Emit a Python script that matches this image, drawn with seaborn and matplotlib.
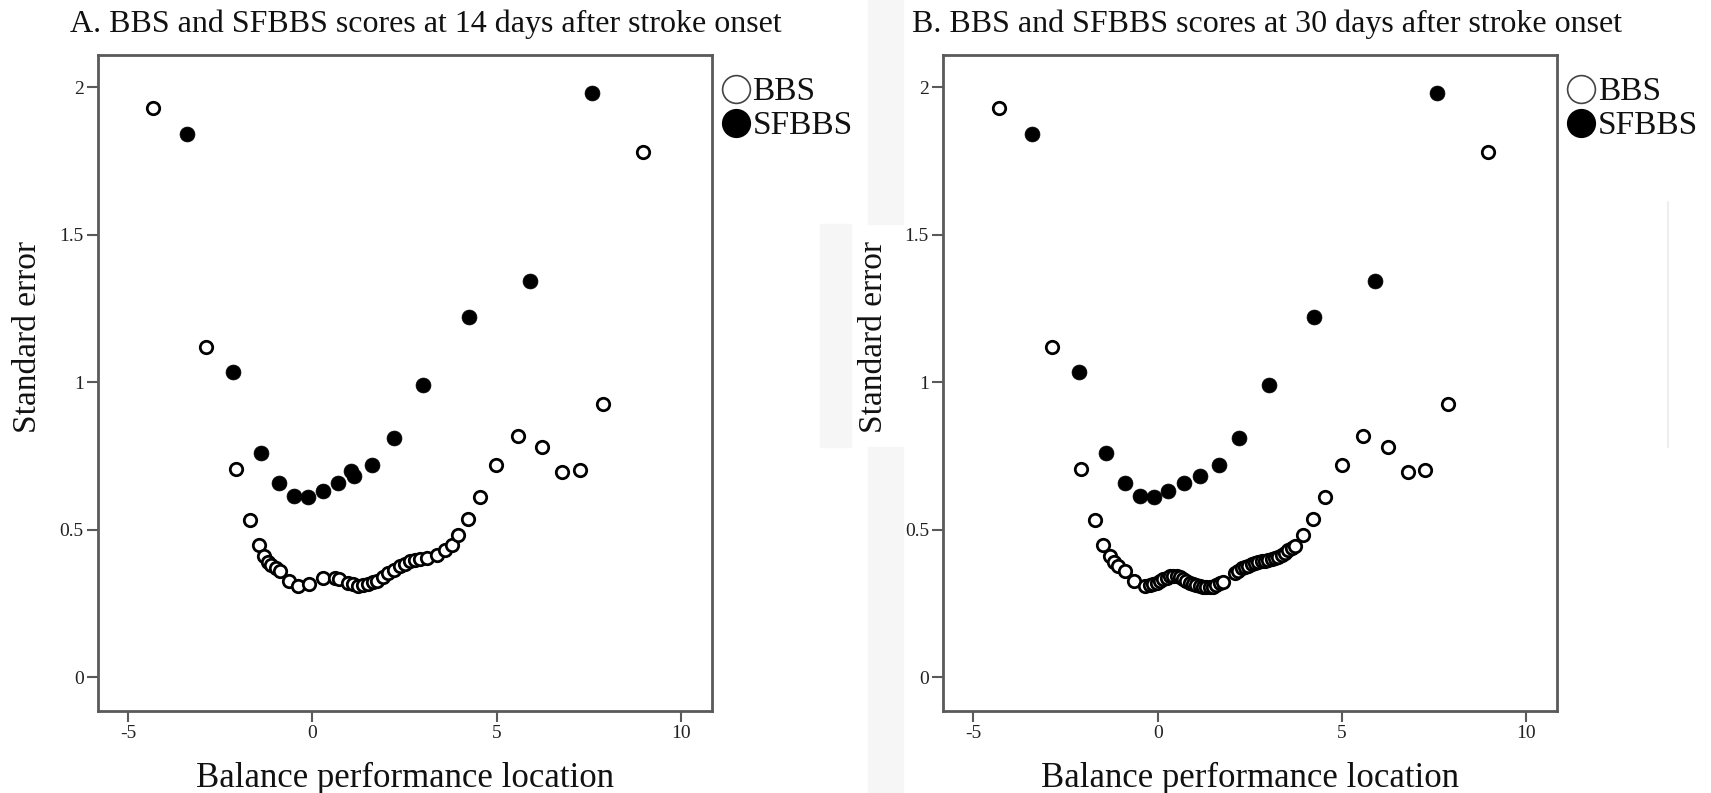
import matplotlib
matplotlib.use("Agg")
import matplotlib.pyplot as plt
from matplotlib.lines import Line2D
from matplotlib.patches import Rectangle
import seaborn as sns
import pandas as pd

# ---------------- data ----------------
a_bbs_x = [-4.32, -2.89, -2.08, -1.70, -1.45, -1.32, -1.20, -1.11, -1.00, -0.88, -0.64, -0.39,
           -0.09, 0.29, 0.62, 0.72, 0.97, 1.10, 1.24, 1.38, 1.51, 1.64, 1.76, 1.92, 2.06, 2.20,
           2.37, 2.50, 2.65, 2.78, 2.92, 3.10, 3.37, 3.60, 3.78, 3.96, 4.21, 4.55, 4.97, 5.59,
           6.24, 6.78, 7.25, 7.89, 8.98]
a_bbs_se = [1.929, 1.121, 0.707, 0.532, 0.449, 0.410, 0.392, 0.381, 0.370, 0.359, 0.328, 0.310,
            0.316, 0.336, 0.338, 0.333, 0.321, 0.315, 0.311, 0.312, 0.317, 0.322, 0.327, 0.340,
            0.353, 0.365, 0.376, 0.385, 0.393, 0.398, 0.401, 0.404, 0.415, 0.432, 0.449, 0.483,
            0.536, 0.611, 0.720, 0.819, 0.780, 0.695, 0.703, 0.927, 1.782]

a_sf_x = [-3.40, -2.15, -1.40, -0.90, -0.49, -0.11, 0.28, 0.70, 1.06, 1.13, 1.63, 2.21, 3.01,
          4.26, 5.90, 7.58]
a_sf_se = [1.842, 1.035, 0.762, 0.658, 0.616, 0.611, 0.633, 0.658, 0.701, 0.683, 0.720, 0.812,
           0.992, 1.223, 1.345, 1.980]

b_bbs_x = [-4.31, -2.88, -2.07, -1.71, -1.48, -1.30, -1.18, -1.07, -0.89, -0.65, -0.35, -0.21,
           -0.12, -0.03, 0.06, 0.15, 0.24, 0.33, 0.42, 0.51, 0.60, 0.69, 0.78, 0.87, 0.96, 1.05,
           1.14, 1.23, 1.32, 1.41, 1.50, 1.59, 1.68, 1.77, 2.10, 2.19, 2.28, 2.37, 2.46, 2.55,
           2.64, 2.73, 2.82, 2.91, 3.00, 3.09, 3.18, 3.27, 3.36, 3.45, 3.54, 3.63, 3.72, 3.95,
           4.22, 4.54, 4.99, 5.58, 6.24, 6.78, 7.25, 7.88, 8.97]
b_bbs_se = [1.929, 1.121, 0.707, 0.532, 0.449, 0.410, 0.390, 0.376, 0.359, 0.328, 0.310, 0.314,
            0.318, 0.321, 0.327, 0.333, 0.338, 0.342, 0.343, 0.342, 0.339, 0.333, 0.327, 0.321,
            0.317, 0.314, 0.311, 0.308, 0.306, 0.306, 0.308, 0.314, 0.319, 0.325, 0.353, 0.362,
            0.370, 0.374, 0.378, 0.383, 0.387, 0.390, 0.393, 0.396, 0.398, 0.401, 0.404, 0.409,
            0.415, 0.423, 0.432, 0.440, 0.447, 0.483, 0.536, 0.611, 0.720, 0.819, 0.780, 0.695,
            0.703, 0.927, 1.782]

b_sf_x = [-3.40, -2.14, -1.39, -0.89, -0.48, -0.10, 0.29, 0.71, 1.16, 1.65, 2.21, 3.02, 4.25,
          5.89, 7.59]
b_sf_se = [1.842, 1.035, 0.762, 0.660, 0.616, 0.611, 0.633, 0.660, 0.683, 0.720, 0.811, 0.992,
           1.223, 1.345, 1.980]

titles = ["A. BBS and SFBBS scores at 14 days after stroke onset",
          "B. BBS and SFBBS scores at 30 days after stroke onset"]
series_names = ["BBS", "SFBBS"]
x_ticks = [-5, 0, 5, 10]
x_tick_labels = ["-5", "0", "5", "10"]
y_ticks = [0, 0.5, 1, 1.5, 2]
y_tick_labels = ["0", "0.5", "1", "1.5", "2"]
x_label = "Balance performance location"
y_label = "Standard error"

# ---------------- style ----------------
sns.set_theme(style="white")
plt.rcParams["font.family"] = ["Liberation Serif", "DejaVu Serif"]

W, H = 1711, 793
fig = plt.figure(figsize=(W / 100, H / 100), dpi=100)
fig.patch.set_facecolor("white")

# faint scan artifacts
art_col = "#f6f6f6"
for (x0, y0, x1, y1) in [(820, 224, 851, 447), (868, 0, 903, 224), (868, 447, 903, 793)]:
    fig.patches.append(Rectangle((x0 / W, 1 - y1 / H), (x1 - x0) / W, (y1 - y0) / H,
                                 transform=fig.transFigure, color=art_col, zorder=0))
fig.add_artist(Line2D([1668 / W, 1668 / W], [1 - 447 / H, 1 - 202 / H],
                      color="#eeeeee", lw=1.5, zorder=0))

ax_w = (712 - 97.5) / W
ax_h = (711 - 55) / H
ax_bottom = (H - 711) / H
lefts = [97.5 / W, 942.8 / W]
title_x = [70, 912]

panels = [
    (a_bbs_x, a_bbs_se, a_sf_x, a_sf_se),
    (b_bbs_x, b_bbs_se, b_sf_x, b_sf_se),
]

spine_col = "#5a5a5a"
for i, (bx, by, sx, sy) in enumerate(panels):
    ax = fig.add_axes([lefts[i], ax_bottom, ax_w, ax_h])
    ax.set_facecolor("white")
    df_b = pd.DataFrame({"x": bx, "se": by})
    df_s = pd.DataFrame({"x": sx, "se": sy})
    sns.scatterplot(data=df_b, x="x", y="se", ax=ax, s=80, marker="o",
                    facecolor="white", edgecolor="black", linewidth=2.0, legend=False, zorder=3)
    sns.scatterplot(data=df_s, x="x", y="se", ax=ax, s=115, marker="o",
                    color="black", edgecolor="black", linewidth=0.5, legend=False, zorder=4)
    ax.set_xlim(-5.83, 10.84)
    ax.set_ylim(-0.114, 2.11)
    ax.set_xticks(x_ticks)
    ax.set_xticklabels(x_tick_labels, fontsize=14)
    ax.set_yticks(y_ticks)
    ax.set_yticklabels(y_tick_labels, fontsize=14)
    ax.tick_params(axis="both", direction="out", length=8, width=1.5, color=spine_col,
                   left=True, bottom=True, pad=2, labelcolor="#222222")
    for sp in ax.spines.values():
        sp.set_visible(True)
        sp.set_color(spine_col)
        sp.set_linewidth(2.0)
    ax.set_xlabel(x_label, fontsize=25, color="#111111")
    ax.xaxis.set_label_coords(0.5, -0.078)
    ax.set_ylabel(y_label, fontsize=24, color="#111111")
    ax.yaxis.set_label_coords(-0.088, 0.57)
    ax.grid(False)

    handles = [
        Line2D([], [], linestyle="none", marker="o", markersize=20, markerfacecolor="white",
               markeredgecolor="#444444", markeredgewidth=1.2),
        Line2D([], [], linestyle="none", marker="o", markersize=20, markerfacecolor="black",
               markeredgecolor="black"),
    ]
    leg = ax.legend(handles, series_names, loc="upper left", bbox_to_anchor=(0.99, 0.987),
                    frameon=False, fontsize=24, handletextpad=0.0, labelspacing=0.1,
                    borderaxespad=0.0, handlelength=1.0)
    for t in leg.get_texts():
        t.set_color("#111111")

    fig.text(title_x[i] / W, 1 - 24 / H, titles[i], fontsize=23,
             ha="left", va="center", color="#111111")

fig.savefig("out.png", dpi=100, facecolor="white")
